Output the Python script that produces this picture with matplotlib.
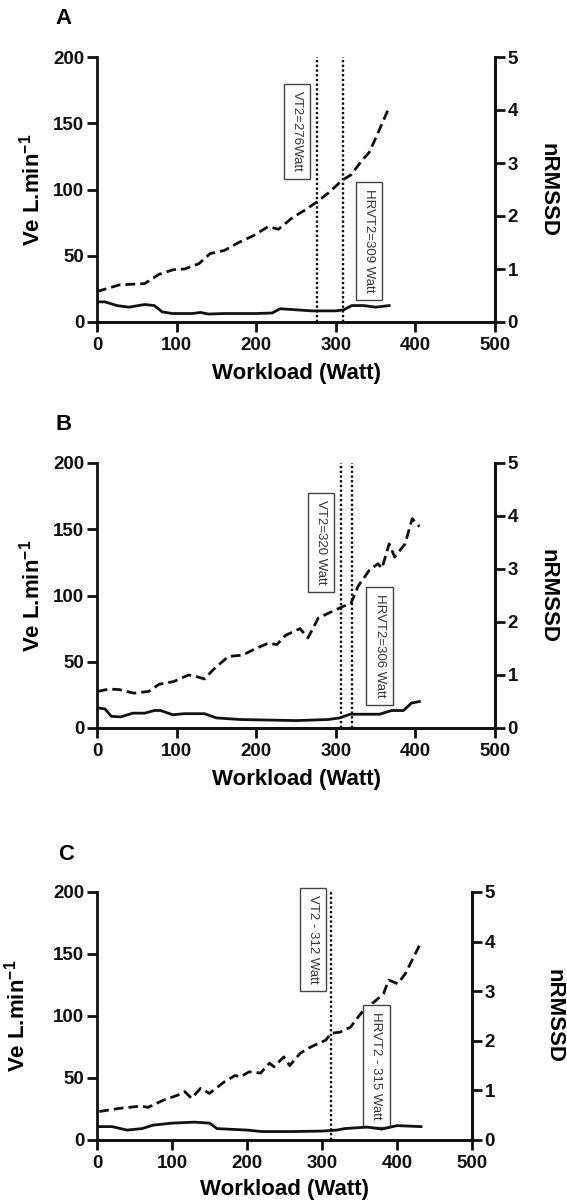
import matplotlib.pyplot as plt
import numpy as np

plt.rcParams['font.family'] = ['Liberation Sans', 'DejaVu Sans']
plt.rcParams['mathtext.fontset'] = 'custom'
plt.rcParams['mathtext.rm'] = 'Liberation Sans'
plt.rcParams['mathtext.bf'] = 'Liberation Sans:bold'

# Panel A
a_ve_w = [0, 28, 60, 78, 96, 110, 128, 142, 160, 178, 196, 215, 228, 246, 260, 276, 292, 308, 319, 333, 342, 351, 367]
a_ve = [23, 28, 29, 36, 39.5, 40, 44, 51.6, 54, 60, 65, 72, 70, 79, 84, 90.5, 98, 107, 111, 122, 128, 140, 162]
a_hrv_w = [0, 10, 25, 40, 60, 72, 82, 95, 120, 130, 140, 160, 200, 220, 230, 250, 270, 300, 310, 320, 335, 350, 367]
a_hrv = [0.38, 0.38, 0.31, 0.28, 0.33, 0.31, 0.19, 0.16, 0.16, 0.18, 0.15, 0.16, 0.16, 0.17, 0.25, 0.23, 0.21, 0.21, 0.23, 0.31, 0.31, 0.28, 0.31]
a_thresholds = [276, 309]
a_labels = ['VT2=276Watt', 'HRVT2=309 Watt']

# Panel B
b_ve_w = [1, 15, 28, 46, 65, 78, 96, 115, 124, 135, 146, 165, 183, 196, 215, 226, 237, 255, 265, 278, 292, 310, 319, 328, 342, 353, 358, 367, 374, 387, 396, 405]
b_ve = [27.6, 29.4, 29, 26.3, 27.6, 33, 35, 40, 39, 37, 44, 54, 55, 59, 64, 63, 70, 75, 68, 83, 87, 92, 94, 107, 119, 124, 120.5, 139, 129, 139, 158, 152]
b_hrv_w = [0, 10, 18, 30, 45, 60, 72, 80, 95, 110, 135, 150, 180, 250, 290, 305, 318, 340, 355, 370, 385, 395, 405]
b_hrv = [0.38, 0.36, 0.22, 0.21, 0.28, 0.28, 0.33, 0.33, 0.25, 0.27, 0.27, 0.19, 0.16, 0.14, 0.16, 0.19, 0.26, 0.26, 0.26, 0.33, 0.33, 0.47, 0.50]
b_thresholds = [306, 320]
b_labels = ['VT2=320 Watt', 'HRVT2=306 Watt']

# Panel C
c_ve_w = [3, 30, 59, 68, 88, 107, 117, 126, 138, 150, 170, 184, 191, 203, 218, 230, 236, 249, 257, 271, 285, 305, 312, 324, 338, 353, 358, 367, 382, 389, 401, 411, 430]
c_ve = [23, 25.5, 27.4, 26.3, 32, 36, 39, 33.6, 41.6, 37.6, 47, 52, 51, 55, 54, 62, 59, 67, 60, 70, 75, 80.5, 86, 87, 91, 103, 99, 110, 118, 129, 126, 134, 157]
c_hrv_w = [0, 20, 40, 60, 75, 100, 130, 150, 160, 200, 220, 260, 300, 320, 330, 360, 380, 400, 432]
c_hrv = [0.27, 0.27, 0.20, 0.23, 0.30, 0.34, 0.36, 0.34, 0.23, 0.20, 0.17, 0.17, 0.18, 0.20, 0.23, 0.26, 0.22, 0.29, 0.27]
c_thresholds = [312]
c_labels = ['VT2 - 312 Watt', 'HRVT2 - 315 Watt']

W, H = 567, 1204
fig = plt.figure(figsize=(W / 100, H / 100), dpi=100, facecolor='white')


def px(x, y):
    return x / W, 1 - y / H


def panel(rect, letter, letter_xy, ve_w, ve, hrv_w, hrv, thresholds, labels, label_boxes,
          ylab_x, rlab_x, xlab_y):
    left, top, right, bottom = rect
    ax = fig.add_axes([left / W, 1 - bottom / H, (right - left) / W, (bottom - top) / H])
    ax2 = ax.twinx()
    ax.plot(ve_w, ve, color='#111111', lw=2.0, ls=(0, (3.5, 1.8)))
    ax2.plot(hrv_w, hrv, color='#111111', lw=2.0)
    for t in thresholds:
        ax.axvline(t, color='#111111', lw=1.7, ls=(0, (1.0, 1.0)))
    for txt, (cx, cy) in zip(labels, label_boxes):
        ax.text(cx, cy, txt, rotation=270, ha='center', va='center', fontsize=9.5,
                color='#333333', clip_on=False,
                bbox=dict(boxstyle='square,pad=0.55', fc='white', ec='#444444', lw=1.0))
    ax.set_xlim(0, 500)
    ax.set_ylim(0, 200)
    ax2.set_ylim(0, 5)
    ax.set_xticks([0, 100, 200, 300, 400, 500])
    ax.set_yticks([0, 50, 100, 150, 200])
    ax2.set_yticks([0, 1, 2, 3, 4, 5])
    for a in (ax, ax2):
        a.spines['top'].set_visible(False)
        for s in a.spines.values():
            s.set_linewidth(2.0)
            s.set_color('#111111')
        a.tick_params(width=2.0, length=7, pad=2, labelsize=13.5, colors='#111111')
        for lab in a.get_xticklabels() + a.get_yticklabels():
            lab.set_fontweight('bold')
    ax2.spines['left'].set_visible(False)
    ax.tick_params(axis='x', pad=4)
    fig.text(*px(*letter_xy), letter, fontsize=16, fontweight='bold', ha='center', va='center')
    cy = (top + bottom) / 2
    fig.text(*px(ylab_x, cy), r'Ve L.min$^{\mathbf{-1}}$', rotation=90, fontsize=16,
             fontweight='bold', ha='center', va='center')
    fig.text(*px(rlab_x, cy), 'nRMSSD', rotation=270, fontsize=16,
             fontweight='bold', ha='center', va='center')
    fig.text(*px((left + right) / 2, xlab_y), 'Workload (Watt)', fontsize=16,
             fontweight='bold', ha='center', va='center')
    return ax


panel((97, 57, 495, 322), 'A', (63, 18), a_ve_w, a_ve, a_hrv_w, a_hrv, a_thresholds,
      a_labels, [(251.5, 144), (341.5, 61)], 32, 548, 374)
panel((97, 463, 495, 728), 'B', (64, 424), b_ve_w, b_ve, b_hrv_w, b_hrv, b_thresholds,
      b_labels, [(281.5, 140), (355, 62)], 32, 548, 779)
panel((97, 892, 472, 1140), 'C', (66, 854), c_ve_w, c_ve, c_hrv_w, c_hrv, c_thresholds,
      c_labels, [(288, 162), (372.5, 59.5)], 17, 554, 1189)

fig.savefig('out.png', dpi=100, facecolor='white')
